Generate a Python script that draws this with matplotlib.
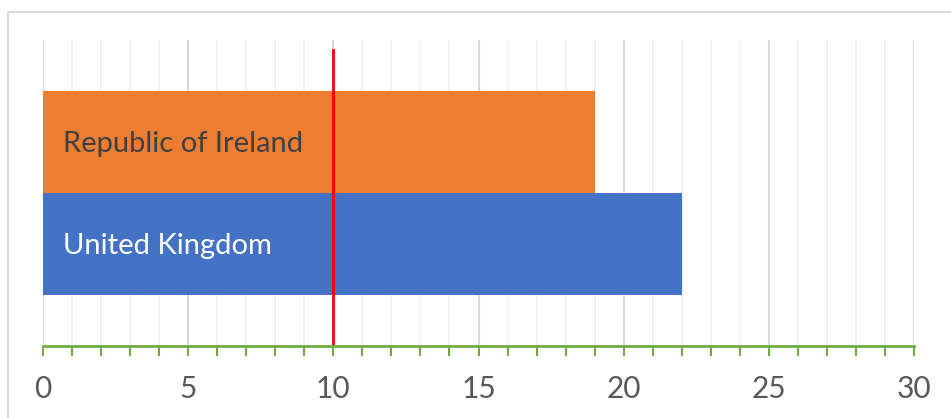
import matplotlib
matplotlib.use("Agg")
import matplotlib.pyplot as plt
from matplotlib.patches import Rectangle
from matplotlib.ticker import MultipleLocator

# Data
countries = ["Republic of Ireland", "United Kingdom"]
values = [19, 22]
bar_colors = ["#ED7D31", "#4472C4"]
label_colors = ["#404040", "#FFFFFF"]
reference_value = 10
x_ticks = [0, 5, 10, 15, 20, 25, 30]

plt.rcParams["font.family"] = ["Lato", "DejaVu Sans"]

W, H = 951, 418
fig = plt.figure(figsize=(W / 100, H / 100), dpi=100)

# Chart border
fig.patches.append(Rectangle((8 / W, -0.1), 1.2, (H - 12) / H + 0.1,
                             transform=fig.transFigure, fill=False,
                             edgecolor="#D9D9D9", linewidth=1.5, zorder=0))

left, right, top, bottom = 43, 914, 40, 346
ax = fig.add_axes([left / W, 1 - bottom / H, (right - left) / W, (bottom - top) / H])

y_pos = [0.5, -0.5]
ax.barh(y_pos, values, height=1.0, color=bar_colors, zorder=3)
for y, name, c in zip(y_pos, countries, label_colors):
    ax.text(0.7, y - 0.02, name, color=c, fontsize=21, va="center", ha="left", zorder=4)

ax.axvline(reference_value, ymin=0, ymax=(1.4 + 1.5) / 3.0, color="#FF0000",
           linewidth=2, zorder=5)

ax.set_xlim(0, 30)
ax.set_ylim(-1.5, 1.5)
ax.xaxis.set_major_locator(MultipleLocator(5))
ax.xaxis.set_minor_locator(MultipleLocator(1))
ax.set_xticks(x_ticks)
ax.set_xticklabels([str(t) for t in x_ticks])
ax.set_yticks([])

ax.grid(axis="x", which="major", color="#D9D9D9", linewidth=1.5, zorder=1)
ax.grid(axis="x", which="minor", color="#F2F2F2", linewidth=1.5, zorder=1)
ax.set_axisbelow(True)

for s in ["top", "right", "left"]:
    ax.spines[s].set_visible(False)
ax.spines["bottom"].set_color("#70AD47")
ax.spines["bottom"].set_linewidth(2)
ax.spines["bottom"].set_zorder(6)

ax.tick_params(axis="x", which="both", direction="out", color="#70AD47",
               width=1.5, labelcolor="#595959", labelsize=21.5, pad=14)
ax.tick_params(axis="x", which="major", length=7)
ax.tick_params(axis="x", which="minor", length=7)

fig.savefig("out.png", dpi=100)
